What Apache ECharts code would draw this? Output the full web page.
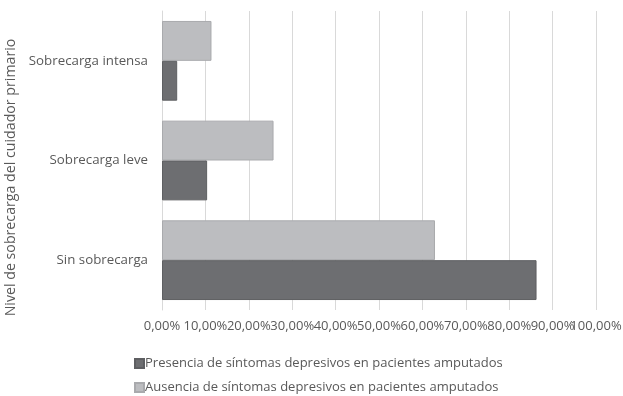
<!DOCTYPE html>
<html>
<head>
<meta charset="utf-8">
<script src="https://cdn.jsdelivr.net/npm/echarts@6/dist/echarts.min.js"></script>
<style>
  html, body { margin: 0; padding: 0; background: #fff; }
  #chart { width: 623px; height: 396px; }
</style>
</head>
<body>
<div id="chart"></div>
<script>
const categories = ['Sin sobrecarga', 'Sobrecarga leve', 'Sobrecarga intensa'];
const presencia = [86.3, 10.4, 3.5];
const ausencia = [62.9, 25.7, 11.4];
const tickLabels = ['0,00%', '10,00%', '20,00%', '30,00%', '40,00%', '50,00%',
  '60,00%', '70,00%', '80,00%', '90,00%', '100,00%'];
const seriesNames = [
  'Presencia de síntomas depresivos en pacientes amputados',
  'Ausencia de síntomas depresivos en pacientes amputados'
];

const FONT = 'Open Sans';
const GREY = '#595959';
const chart = echarts.init(document.getElementById('chart'), null, { renderer: 'canvas' });

const legendBase = {
  left: 129, itemWidth: 9, itemHeight: 9, icon: 'rect',
  textStyle: { color: GREY, fontSize: 13, fontFamily: FONT, padding: [0, 0, 0, -4] }
};

chart.setOption({
  animation: false,
  backgroundColor: '#ffffff',
  textStyle: { fontFamily: FONT },
  grid: { left: 162, right: 27, top: 11, bottom: 86, outerBoundsMode: 'none', containLabel: false },
  legend: [
    Object.assign({ top: 352, data: [seriesNames[0]] }, legendBase),
    Object.assign({ top: 376, data: [seriesNames[1]] }, legendBase)
  ],
  xAxis: [
    {
      // value scale used by the bars
      type: 'value', min: 0, max: 100, interval: 10,
      axisLine: { show: false }, axisTick: { show: false },
      axisLabel: { show: false },
      splitLine: { show: true, lineStyle: { color: '#d9d9d9', width: 1 } }
    },
    {
      // tick labels only, so every label is kept even where they touch
      type: 'category', position: 'bottom', data: tickLabels, boundaryGap: false,
      axisLine: { show: false }, axisTick: { show: false }, splitLine: { show: false },
      axisLabel: { color: GREY, fontSize: 13, margin: 10, interval: 0 }
    }
  ],
  yAxis: {
    type: 'category', data: categories,
    name: 'Nivel de sobrecarga del cuidador primario',
    nameLocation: 'middle', nameGap: 140,
    nameTextStyle: { color: GREY, fontSize: 14.2, padding: [0, 34, 0, 0] },
    axisLine: { show: true, lineStyle: { color: '#d9d9d9' } },
    axisTick: { show: false },
    axisLabel: { color: GREY, fontSize: 13.3, margin: 14 }
  },
  series: [
    {
      name: seriesNames[1], type: 'bar', data: ausencia, xAxisIndex: 0,
      barGap: '0%', barCategoryGap: '20%',
      itemStyle: { color: '#bcbdc0', borderColor: '#a9aaad', borderWidth: 1 }
    },
    {
      name: seriesNames[0], type: 'bar', data: presencia, xAxisIndex: 0,
      barGap: '0%', barCategoryGap: '20%',
      itemStyle: { color: '#6d6e71', borderColor: '#5e5f62', borderWidth: 1 }
    }
  ]
});
</script>
</body>
</html>
